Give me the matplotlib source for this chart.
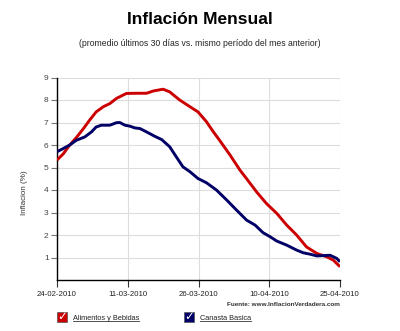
import numpy as np
import matplotlib
matplotlib.use("Agg")
import matplotlib.pyplot as plt
import matplotlib.dates as mdates
from matplotlib.patches import Rectangle
from matplotlib.lines import Line2D
import datetime as dt

# días desde 24-02-2010
dias_alim = [0, 1.3, 2.7, 4.1, 5.5, 6.9, 8.3, 9.8, 11.2, 12.6, 14.7, 16.8, 19.0, 20.4, 22.5,
             23.9, 26.0, 28.2, 29.9, 31.7, 33.1, 34.5, 36.7, 38.8, 40.2, 42.3, 44.4, 46.6,
             48.7, 50.8, 52.9, 55.1, 57.2, 58.6, 60]
alimentos = [5.33, 5.6, 6.0, 6.33, 6.7, 7.1, 7.47, 7.7, 7.84, 8.07, 8.29, 8.3, 8.3, 8.4, 8.48,
             8.36, 8.0, 7.7, 7.47, 7.03, 6.6, 6.2, 5.55, 4.88, 4.5, 3.92, 3.4, 2.96,
             2.44, 2.0, 1.47, 1.18, 1.03, 0.88, 0.59]

dias_can = [0, 1.3, 2.7, 4.1, 5.9, 7.3, 8.3, 9.4, 11.2, 12.6, 13.3, 14.4, 15.4, 16.5, 17.6,
            19.0, 20.7, 22.2, 23.9, 25.3, 26.7, 28.2, 29.9, 31.7, 33.8, 36.0, 38.1, 40.2,
            42.0, 43.7, 45.2, 46.6, 48.7, 50.8, 52.2, 53.6, 55.1, 57.9, 59.3, 60]
canasta = [5.7, 5.84, 6.0, 6.21, 6.36, 6.58, 6.8, 6.88, 6.88, 6.99, 7.0, 6.88, 6.84, 6.76, 6.73,
           6.58, 6.39, 6.24, 5.92, 5.47, 5.03, 4.81, 4.51, 4.32, 4.0, 3.55, 3.1, 2.66,
           2.44, 2.1, 1.92, 1.73, 1.55, 1.33, 1.21, 1.15, 1.07, 1.1, 0.96, 0.81]

inicio = dt.datetime(2010, 2, 24)
tick_fechas = [inicio + dt.timedelta(days=d) for d in (0, 15, 30, 45, 60)]

rojo = "#cc0000"
azul = "#000066"

plt.rcParams['font.family'] = ['Liberation Sans', 'DejaVu Sans']

fig = plt.figure(figsize=(4.0, 3.31), dpi=100)
ax = fig.add_axes([57 / 400, 1 - 280 / 331, 283 / 400, 202.5 / 331])

x_alim = [inicio + dt.timedelta(days=d) for d in dias_alim]
x_can = [inicio + dt.timedelta(days=d) for d in dias_can]
ax.plot(x_alim, alimentos, color=rojo, lw=2.1, solid_capstyle="butt", zorder=3)
ax.plot(x_can, canasta, color=azul, lw=2.1, solid_capstyle="butt", zorder=4)

ax.set_xlim(tick_fechas[0], tick_fechas[-1])
ax.set_ylim(0, 9)
ax.set_xticks(tick_fechas)
ax.xaxis.set_major_formatter(mdates.DateFormatter("%d-%m-%Y"))
ax.set_yticks(range(1, 10))
ax.grid(True, color="#dddddd", lw=0.8)
ax.set_axisbelow(True)
for s in ("top", "right"):
    ax.spines[s].set_visible(False)
ax.spines["left"].set_linewidth(1.0)
ax.spines["bottom"].set_linewidth(1.0)
ax.tick_params(axis="y", length=4, width=0.8, color="#777777", labelsize=6,
               labelcolor="#444444", pad=2)
ax.tick_params(axis="x", length=5, width=0.8, color="#333333", labelsize=5.6,
               labelcolor="#222222", pad=3)

fig.text(0.5, 1 - 20 / 331, "Inflación Mensual", ha="center", va="center",
         fontsize=12.5, fontweight="bold")
fig.text(0.5, 1 - 44 / 331, "(promedio últimos 30 días vs. mismo período del mes anterior)",
         ha="center", va="center", fontsize=6.2, color="#222222")
fig.text(24 / 400, 1 - 193 / 331, "Inflacion (%)", rotation=90, ha="center", va="center",
         fontsize=5.8, color="#333333")
fig.text(340 / 400, 1 - 304 / 331, "Fuente: www.InflacionVerdadera.com", ha="right",
         va="center", fontsize=4.6, color="#333333", fontweight="bold")

# leyenda con casillas
for x0, col, lab in ((57, rojo, "Alimentos y Bebidas"), (184, azul, "Canasta Basica")):
    fig.patches.append(Rectangle((x0 / 400, 1 - 322 / 331), 10 / 400, 10 / 331,
                                 transform=fig.transFigure, facecolor=col, edgecolor="#555555",
                                 lw=0.5))
    fig.text((x0 + 5) / 400, 1 - 316.5 / 331, "✓", ha="center", va="center", color="white",
             fontsize=8.5, fontweight="bold", family="DejaVu Sans")
    t = fig.text((x0 + 16) / 400, 1 - 318 / 331, lab, ha="left", va="center", fontsize=5.3,
                 color="#222222")
    fig.canvas.draw()
    bb = t.get_window_extent().transformed(fig.transFigure.inverted())
    fig.lines.append(Line2D([bb.x0, bb.x1], [bb.y0 + 0.001, bb.y0 + 0.001],
                            transform=fig.transFigure, color="#333333", lw=0.6))

fig.savefig("out.png", dpi=100)
